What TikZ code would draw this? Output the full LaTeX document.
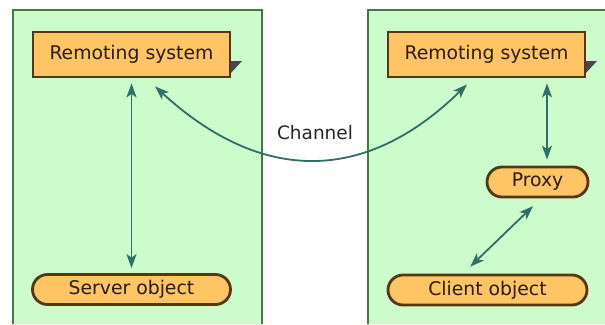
\documentclass[tikz,border=0pt]{standalone}
\usepackage{fontspec}
\setmainfont{DejaVu Sans}
\usetikzlibrary{arrows.meta,shapes.misc}
\definecolor{panelfill}{RGB}{204,252,204}
\definecolor{panelline}{RGB}{70,120,70}
\definecolor{boxfill}{RGB}{255,196,100}
\definecolor{boxline}{RGB}{85,55,20}
\definecolor{conncol}{RGB}{50,110,105}
\definecolor{shadowcol}{RGB}{70,70,85}
\definecolor{txtcol}{RGB}{40,30,10}
\tikzset{
  panel/.style={fill=panelfill},
  panelborder/.style={draw=panelline,line width=2pt},
  sysbox/.style={draw=boxline,fill=boxfill,line width=2.8pt,minimum width=197pt,minimum height=45pt,inner sep=0pt,font=\fontsize{18.8}{21}\selectfont,text=txtcol},
  objbox/.style={draw=boxline,fill=boxfill,line width=2.8pt,rounded rectangle,minimum height=30pt,inner sep=0pt,font=\fontsize{18.8}{21}\selectfont,text=txtcol},
  conn/.style={draw=conncol,line width=1.8pt,{Stealth[length=14pt,width=10pt,inset=3.5pt]}-{Stealth[length=14pt,width=10pt,inset=3.5pt]}},
  lbl/.style={font=\fontsize{18.5}{21}\selectfont,text=black!85}
}
\begin{document}
\begin{tikzpicture}[x=1pt,y=-1pt]
\useasboundingbox (0,0) rectangle (605,324);
\fill[white] (0,0) rectangle (605,324);
% panels
\fill[panel] (13,10) rectangle (262,324);
\draw[panelborder] (13,324) -- (13,10) -- (262,10) -- (262,324);
\fill[panel] (368,10) rectangle (605,324);
\draw[panelborder] (368,324) -- (368,10) -- (605,10);
% shadows
\fill[shadowcol] (229,61) -- (242,61) -- (229,75) -- cycle;
\fill[shadowcol] (584,61) -- (597,61) -- (584,75) -- cycle;
% nodes
\node[sysbox] (lrs) at (131.5,54.5) {Remoting system};
\node[sysbox] (rrs) at (486.5,54.5) {Remoting system};
\node[objbox,minimum width=198pt] (server) at (131.5,289.5) {Server object};
\node[objbox,minimum width=199pt] (client) at (487.5,290) {Client object};
\node[objbox,minimum width=101pt] (proxy) at (537.5,182) {Proxy};
\node[lbl] (chan) at (315,133) {Channel};
% connectors
\draw[conn,shorten <=5pt,shorten >=5pt] (lrs.south) -- (server.north);
\draw[conn,shorten <=5pt,shorten >=6pt] ([xshift=60.5pt]rrs.south) -- ([xshift=9.5pt]proxy.north);
\draw[conn,shorten <=11pt,shorten >=10pt] ([xshift=3.5pt]proxy.south) -- ([xshift=-24.5pt]client.north);
\draw[conn] ([xshift=23.5pt,yshift=-8pt]lrs.south) .. controls (261.7,184.3) and (365.7,183.7) .. ([xshift=-19.5pt,yshift=-6pt]rrs.south);
\end{tikzpicture}
\end{document}
